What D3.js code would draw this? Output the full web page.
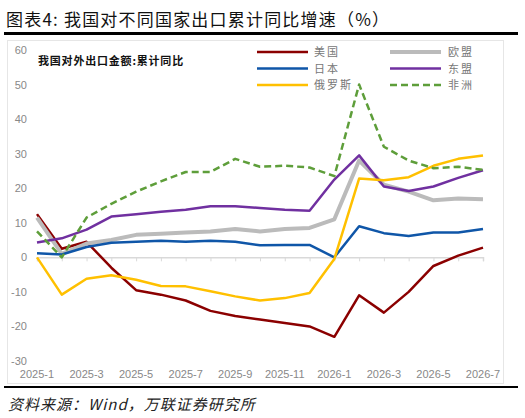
<!DOCTYPE html><html><head><meta charset="utf-8"><script src="https://d3js.org/d3.v7.min.js"></script>
<style>body{margin:0;background:#fff;font-family:"Noto Sans CJK SC",sans-serif}</style></head><body><svg id="c" width="525" height="418"></svg>
<script>
const months=["2025-1","2025-2","2025-3","2025-4","2025-5","2025-6","2025-7","2025-8","2025-9","2025-10","2025-11","2025-12","2026-1","2026-2","2026-3","2026-4","2026-5","2026-6","2026-7"];
const tickLabels=["2025-1","2025-3","2025-5","2025-7","2025-9","2025-11","2026-1","2026-3","2026-5","2026-7"];
const yTicks=[-30,-20,-10,0,10,20,30,40,50,60];
const us=[12.5,2.5,4.5,-3,-9.5,-10.8,-12.5,-15.5,-17,-18,-19,-20,-23,-11,-16,-10,-2.5,0.5,2.8];
const eu=[11.5,1,4,5,6.5,6.8,7.2,7.5,8.2,7.5,8.2,8.5,11,28,21,19,16.5,17,16.8];
const jp=[1.2,0.8,3,4.2,4.5,4.8,4.5,4.8,4.5,3.5,3.6,3.6,0,9,7,6.2,7.2,7.2,8.2];
const asean=[4.3,5.5,8,11.8,12.5,13.2,13.8,14.8,14.8,14.3,13.8,13.5,22.5,29.5,20.5,19.2,20.5,23,25.2];
const ru=[0,-10.8,-6.2,-5.2,-6.5,-8.3,-8.4,-9.8,-11.3,-12.5,-11.8,-10.3,-0.5,22.8,22.3,23.2,26.5,28.5,29.5];
const af=[7.5,0,11.5,15.5,19,22,24.7,24.7,28.5,26.2,26.5,26,23.5,50,32,28,25.8,26.2,25.3];
const series=[
 {n:"美国",d:us,c:"#8B0000",w:2.5},{n:"欧盟",d:eu,c:"#BBBBBB",w:4},
 {n:"日本",d:jp,c:"#0F56A8",w:2.5},{n:"东盟",d:asean,c:"#7030A0",w:2.5},
 {n:"俄罗斯",d:ru,c:"#FFC000",w:2.5},{n:"非洲",d:af,c:"#5E9E3A",w:2.5,dash:"7,4"}];
const svg=d3.select("#c");
svg.append("text").attr("x",6).attr("y",26).attr("font-size",17).attr("letter-spacing",1.2).attr("fill","#111").text("图表4:  我国对不同国家出口累计同比增速（%）");
svg.append("rect").attr("x",4).attr("y",32).attr("width",514).attr("height",3).attr("fill","#000");
svg.append("rect").attr("x",7.5).attr("y",40.5).attr("width",496).attr("height",343).attr("fill","none").attr("stroke","#e6e6e6");
svg.append("rect").attr("x",4).attr("y",386).attr("width",514).attr("height",2).attr("fill","#000");
svg.append("text").attr("x",8).attr("y",410).attr("font-size",15).attr("font-style","italic").attr("letter-spacing",1).attr("fill","#222").text("资料来源：Wind，万联证券研究所");
const x=d3.scalePoint().domain(months).range([37,483]);
const y=d3.scaleLinear().domain([-30,60]).range([361,50]);
const g=svg.append("g");
yTicks.forEach(t=>g.append("text").attr("x",27).attr("y",y(t)+4).attr("text-anchor","end").attr("font-size",11).attr("font-family","Liberation Sans, Arial").attr("fill","#888").text(t));
const xa=g.append("g").attr("transform",`translate(0,${y(0)})`).call(d3.axisBottom(x).tickValues(months).tickSize(4).tickFormat(""));
xa.select(".domain").attr("stroke","#d9d9d9").attr("stroke-width",1.5);
xa.selectAll("line").attr("stroke","#d9d9d9");
tickLabels.forEach(t=>g.append("text").attr("x",x(t)).attr("y",378).attr("text-anchor","middle").attr("font-size",11).attr("font-family","Liberation Sans, Arial").attr("fill","#888").text(t));
const line=d3.line().x((d,i)=>x(months[i])).y(d=>y(d));
series.forEach(s=>g.append("path").attr("d",line(s.d)).attr("fill","none").attr("stroke",s.c).attr("stroke-width",s.w).attr("stroke-dasharray",s.dash||null).attr("stroke-linejoin","round"));
g.append("text").attr("x",38).attr("y",65).attr("font-size",11).attr("font-weight","bold").attr("letter-spacing",0.8).attr("fill","#111").text("我国对外出口金额:累计同比");
series.forEach((s,i)=>{const cx=i%2?390:257, cy=52+Math.floor(i/2)*16.5;
 g.append("line").attr("x1",cx).attr("x2",cx+51).attr("y1",cy).attr("y2",cy).attr("stroke",s.c).attr("stroke-width",s.w).attr("stroke-dasharray",s.dash||null);
 g.append("text").attr("x",i%2?474:314).attr("y",cy+4).attr("font-size",11).attr("letter-spacing",2).attr("fill","#777").attr("text-anchor",i%2?"end":"start").text(s.n);});
</script></body></html>
